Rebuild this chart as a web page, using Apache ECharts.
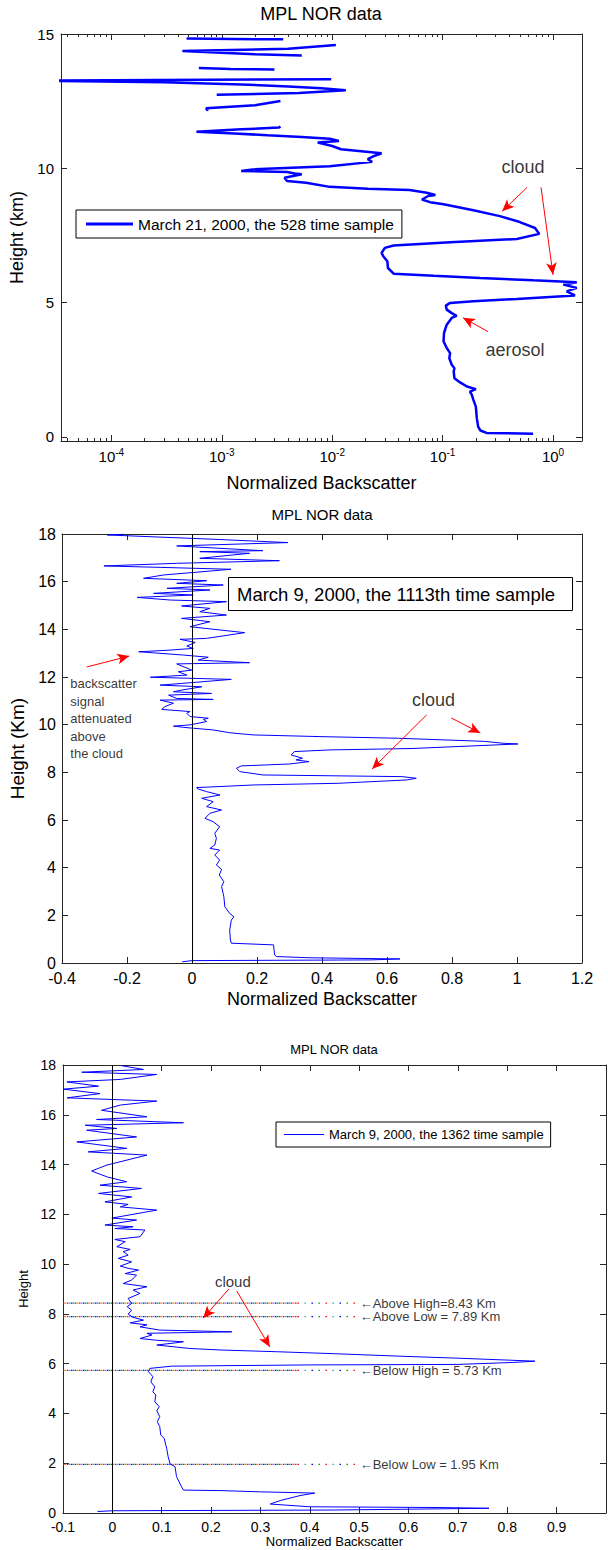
<!DOCTYPE html>
<html><head><meta charset="utf-8">
<script src="https://cdn.jsdelivr.net/npm/echarts@6/dist/echarts.min.js"></script>
<style>html,body{margin:0;padding:0;background:#fff}#c{width:608px;height:1550px}</style>
</head><body><div id="c"></div>
<script>
// ---------------- DATA ----------------
// Panel 1 : March 21, 2000 (log x axis); null = gap (no positive signal)
const p1Title = 'MPL NOR data';
const p1Legend = 'March 21, 2000, the 528 time sample';
const p1Heights = [0.12,0.15,0.24,0.38,0.70,1.13,1.38,1.57,1.69,1.78,1.88,2.03,2.19,2.44,2.56,2.69,2.93,3.12,3.31,3.56,3.87,4.18,4.43,4.51,4.61,4.74,4.89,4.99,5.05,5.14,5.27,5.42,5.55,5.67,5.76,5.83,5.92,6.00,6.08,6.29,6.54,6.73,6.85,7.04,7.13,7.25,7.37,7.56,7.78,8.00,8.22,8.44,8.66,8.74,8.84,8.97,9.01,9.09,9.19,9.24,9.31,9.46,9.53,9.65,9.78,9.81,9.86,9.90,9.96,10.08,10.24,10.34,10.46,10.56,10.71,10.83,10.96,11.02,11.10,11.17,11.23,11.30,11.36,11.45,11.52,11.56,null,12.14,12.24,12.35,12.51,null,12.74,12.80,12.91,12.98,13.05,13.12,13.20,13.26,13.32,null,13.73,13.70,13.68,null,14.20,14.25,14.37,14.45,14.59,null,14.83,14.80];
const p1Values = [0.66,0.25,0.22,0.21,0.204,0.20,0.19,0.184,0.177,0.20,0.166,0.144,0.128,0.126,0.128,0.121,0.115,0.117,0.109,0.102,0.103,0.109,0.121,0.134,0.121,0.109,0.107,0.117,0.19,0.47,1.58,1.33,1.64,1.24,1.64,0.66,0.218,0.083,0.036,0.032,0.0316,0.029,0.028,0.030,0.036,0.117,0.47,0.75,0.687,0.50,0.33,0.19,0.102,0.077,0.065,0.074,0.086,0.072,0.05,0.021,0.0095,0.0058,0.0039,0.0037,0.0053,0.0046,0.0039,0.0015,0.0019,0.0095,0.023,0.021,0.024,0.028,0.012,0.010,0.0074,0.0115,0.0095,0.0053,0.0026,0.0013,0.00059,0.0015,0.0033,0.0034,null,0.00075,0.00072,0.0020,0.0034,null,0.0009,0.005,0.0133,0.008,0.004,0.0015,0.0003,0.00002,0.0098,null,0.00062,0.0012,0.003,null,0.0053,0.002,0.00044,0.004,0.0108,null,0.00048,0.0036];
const p1MajorTicks = [1e-4,1e-3,1e-2,1e-1,1];
const p1Mantissas = [2,3,4,5,6,7,8,9];
const p1Decades = [1e-5,1e-4,1e-3,1e-2,1e-1,1];
const p1HeightTicks = [0,5,10,15];
const p1NoteText = ['cloud','aerosol'];
const p1NoteAt = [[0.535,10.04],[0.453,3.25]];
const p1Arrows = [[[0.582,9.29],[0.346,8.40]],[[0.779,9.29],[1.0,6.04]],[[0.258,3.92],[0.153,4.44]]];

// Panel 2 : March 9, 2000, 1113th sample
const p2Title = 'MPL NOR data';
const p2Box = 'March 9, 2000, the 1113th time sample';
const p2Heights = [0.05,0.10,0.13,0.17,0.22,0.27,0.34,0.76,0.83,0.97,1.38,1.80,1.94,2.08,2.36,2.78,2.92,3.20,3.41,3.69,3.93,4.11,4.32,4.53,4.74,4.81,4.95,5.23,5.44,5.72,5.93,6.07,6.28,6.42,6.56,6.77,6.91,7.05,7.19,7.30,7.36,7.40,7.47,7.54,7.68,7.75,7.82,7.89,8.03,8.17,8.27,8.35,8.45,8.52,8.59,8.73,8.87,8.94,9.00,9.19,9.22,9.30,9.43,9.50,9.57,9.66,9.78,9.85,9.89,9.94,9.99,10.13,10.22,10.27,10.34,10.48,10.55,10.64,10.76,10.90,11.03,11.06,11.10,11.24,11.31,11.38,11.45,11.59,11.66,11.73,11.90,11.99,12.08,12.22,12.29,12.55,12.60,12.71,12.83,12.92,13.06,13.12,13.20,13.30,13.45,13.58,13.62,13.86,14.11,14.32,14.46,14.60,14.74,14.88,14.98,15.16,15.23,15.34,15.44,15.51,15.65,15.72,15.86,15.93,16.04,16.14,16.28,16.52,16.60,16.66,16.77,16.88,16.98,17.19,17.26,17.30,17.50,17.64,17.78,17.96,17.99];
const p2Values = [-0.03,0.0,0.55,0.64,0.36,0.26,0.254,0.251,0.121,0.118,0.116,0.121,0.129,0.116,0.101,0.098,0.096,0.091,0.098,0.084,0.091,0.075,0.085,0.070,0.085,0.055,0.070,0.075,0.070,0.085,0.065,0.040,0.055,0.091,0.045,0.065,0.030,0.086,0.045,0.019,0.014,0.08,0.19,0.45,0.66,0.69,0.646,0.218,0.147,0.137,0.152,0.30,0.36,0.32,0.34,0.305,0.315,0.422,0.677,1.003,0.957,0.90,0.636,0.391,0.188,0.116,0.065,0.004,-0.027,-0.057,-0.006,0.045,0.035,0.05,-0.006,-0.016,-0.006,-0.093,-0.083,-0.057,-0.098,0.065,-0.047,-0.072,0.06,-0.057,-0.032,0.030,-0.098,-0.032,0.121,-0.128,-0.016,-0.042,-0.001,-0.047,0.177,0.019,0.05,-0.026,-0.164,-0.077,0.004,-0.016,0.01,-0.037,0.045,0.162,-0.006,0.055,-0.032,0.106,0.024,0.055,-0.032,0.106,-0.067,-0.169,0.004,-0.118,0.055,-0.077,0.096,-0.047,0.045,-0.149,-0.088,0.12,-0.098,-0.271,-0.047,0.269,0.024,0.177,0.024,0.218,-0.047,0.295,0.065,-0.261,-0.21];
const p2NoteText = ['backscatter\nsignal\nattenuated\nabove\nthe cloud','cloud'];
const p2NoteAt = [[-0.376,10.24],[0.743,11.04]];
const p2Arrows = [[[-0.324,12.42],[-0.193,12.88]],[[0.722,10.41],[0.554,8.14]],[[0.798,10.28],[0.887,9.65]]];

// Panel 3 : March 9, 2000, 1362 sample
const p3Title = 'MPL NOR data';
const p3Legend = 'March 9, 2000, the 1362 time sample';
const p3Heights = [0.06,0.09,0.12,0.19,0.22,0.25,0.36,0.50,0.70,0.80,0.85,0.90,0.92,1.06,1.46,1.86,1.97,2.26,2.60,3.00,3.13,3.47,3.67,3.87,4.11,4.27,4.47,4.74,4.87,5.07,5.27,5.48,5.68,5.81,5.90,5.95,5.97,6.05,6.10,6.14,6.22,6.30,6.40,6.48,6.55,6.61,6.75,6.83,6.88,6.94,7.01,7.15,7.22,7.28,7.35,7.48,7.56,7.64,7.75,7.86,7.99,8.15,8.29,8.42,8.62,8.82,8.96,9.09,9.22,9.36,9.56,9.62,9.76,9.83,9.92,10.09,10.23,10.36,10.50,10.59,10.70,10.90,10.99,11.10,11.37,11.43,11.50,11.57,11.77,11.85,12.17,12.30,12.40,12.50,12.70,12.84,13.04,13.17,13.31,13.50,13.74,13.98,14.38,14.51,14.65,14.91,15.11,15.38,15.45,15.58,15.68,15.81,15.92,16.18,16.39,16.55,16.68,16.85,17.03,17.15,17.32,17.42,17.62,17.71,17.82,17.97];
const p3Values = [-0.03,0.0,0.45,0.763,0.66,0.40,0.32,0.34,0.38,0.41,0.30,0.22,0.144,0.14,0.13,0.127,0.117,0.113,0.11,0.105,0.098,0.096,0.091,0.096,0.09,0.095,0.086,0.088,0.082,0.086,0.078,0.082,0.073,0.076,0.12,0.40,0.70,0.812,0.856,0.805,0.70,0.583,0.45,0.333,0.218,0.157,0.09,0.125,0.144,0.09,0.056,0.08,0.07,0.242,0.096,0.056,0.07,0.036,0.063,0.042,0.032,0.039,0.03,0.039,0.032,0.056,0.042,0.07,0.022,0.039,0.049,0.026,0.053,0.032,0.016,0.039,0.012,0.032,0.022,0.036,0.009,0.026,0.005,0.056,0.066,0.005,0.042,-0.015,0.049,-0.001,0.09,0.016,0.032,-0.015,0.039,-0.028,0.059,-0.025,0.029,-0.01,-0.042,-0.011,0.07,-0.049,0.029,-0.072,0.049,-0.052,0.009,-0.055,0.144,-0.032,0.07,-0.022,0.016,0.09,-0.092,-0.025,-0.099,-0.028,-0.092,0.016,0.09,-0.062,0.063,0.019];
const p3Levels = [8.43,7.89,5.73,1.95];
const p3LevelLabels = ['\u2190Above High=8.43 Km','\u2190Above Low = 7.89 Km','\u2190Below High = 5.73 Km','\u2190Below Low = 1.95 Km'];
const p3LevelSpan = [-0.1,0.375,0.5];   // dense part, then sparse part of the dotted level lines
const p3LevelLabelX = 0.5;
const p3NoteText = ['cloud'];
const p3NoteAt = [[0.244,9.32]];
const p3Arrows = [[[0.236,9.0],[0.184,7.83]],[[0.252,8.92],[0.319,6.67]]];

// ---------------- STYLE / BUILD ----------------
const FONT = "'Liberation Sans', Arial, Helvetica, sans-serif";
const AX = '#262626';
const BLUE = '#0000ff';
const RED = '#ff0000';

const p1Minor = [];
p1Decades.forEach(d => p1Mantissas.forEach(m => { const v = +(m * d).toPrecision(3); if (v > 3.5e-5 && v < 1.83) p1Minor.push(v); }));

function pairs(vals, hs) { return hs.map((h, i) => (h == null || vals[i] == null) ? ['-', '-'] : [vals[i], h]); }
function arrowLines(list) { return list.map(a => [{coord: a[0]}, {coord: a[1]}]); }
function arrowMark(list) {
  return {silent: true, animation: false, symbol: ['none', 'arrow'], symbolSize: [8, 12],
    label: {show: false}, lineStyle: {color: RED, width: 1, type: 'solid', opacity: 1},
    emphasis: {disabled: true}, data: arrowLines(list)};
}
const zeroMark = {silent: true, animation: false, symbol: ['none', 'none'], label: {show: false},
  lineStyle: {color: '#000', width: 1, type: 'solid'}, emphasis: {disabled: true}, data: [{xAxis: 0}]};

function tickAxis(extra) {
  return Object.assign({
    axisLine: {show: true, onZero: false, lineStyle: {color: AX, width: 1}},
    splitLine: {show: false},
    axisTick: {show: true, inside: true, length: 6, lineStyle: {color: AX}},
    axisLabel: {show: false}
  }, extra);
}
const lbl = (size, extra) => Object.assign({show: true, color: '#000', fontFamily: FONT, fontSize: size}, extra || {});
const nameStyle = size => ({color: '#000', fontFamily: FONT, fontSize: size});

const xAxis = [
  // panel 1 (log)
  tickAxis({gridIndex: 0, type: 'log', logBase: 10, min: 3.5e-5, max: 1.83, position: 'bottom',
    axisTick: {show: true, inside: true, length: 6, customValues: p1MajorTicks, lineStyle: {color: AX}},
    axisLabel: lbl(15, {customValues: p1MajorTicks, margin: 6,
      formatter: v => '{b|10}{e|' + Math.round(Math.log10(v)) + '}',
      rich: {b: {fontSize: 15, color: '#000', fontFamily: FONT}, e: {fontSize: 10, color: '#000', fontFamily: FONT, padding: [0, 0, 9, 0]}}}),
    name: 'Normalized Backscatter', nameLocation: 'middle', nameGap: 33, nameTextStyle: nameStyle(18)}),
  tickAxis({gridIndex: 0, type: 'log', logBase: 10, min: 3.5e-5, max: 1.83, position: 'bottom',
    axisLine: {show: false, onZero: false},
    axisTick: {show: true, inside: true, length: 3, customValues: p1Minor, lineStyle: {color: AX}}}),
  tickAxis({gridIndex: 0, type: 'log', logBase: 10, min: 3.5e-5, max: 1.83, position: 'top',
    axisTick: {show: true, inside: true, length: 6, customValues: p1MajorTicks, lineStyle: {color: AX}}}),
  tickAxis({gridIndex: 0, type: 'log', logBase: 10, min: 3.5e-5, max: 1.83, position: 'top',
    axisLine: {show: false, onZero: false},
    axisTick: {show: true, inside: true, length: 3, customValues: p1Minor, lineStyle: {color: AX}}}),
  // panel 2
  tickAxis({gridIndex: 1, type: 'value', min: -0.4, max: 1.2, interval: 0.2, position: 'bottom',
    axisLabel: lbl(16, {margin: 7}),
    name: 'Normalized Backscatter', nameLocation: 'middle', nameGap: 27, nameTextStyle: nameStyle(18)}),
  tickAxis({gridIndex: 1, type: 'value', min: -0.4, max: 1.2, interval: 0.2, position: 'top'}),
  // panel 3
  tickAxis({gridIndex: 2, type: 'value', min: -0.1, max: 1.0, interval: 0.1, position: 'bottom',
    axisLabel: lbl(14, {margin: 7, showMaxLabel: false}),
    name: 'Normalized Backscatter', nameLocation: 'middle', nameGap: 22, nameTextStyle: nameStyle(13)}),
  tickAxis({gridIndex: 2, type: 'value', min: -0.1, max: 1.0, interval: 0.1, position: 'top'})
];
const yAxis = [
  tickAxis({gridIndex: 0, type: 'value', min: -0.15, max: 15, position: 'left',
    axisTick: {show: true, inside: true, length: 6, customValues: p1HeightTicks, lineStyle: {color: AX}},
    axisLabel: lbl(15, {customValues: p1HeightTicks, margin: 7}),
    name: 'Height (km)', nameLocation: 'middle', nameGap: 30, nameTextStyle: nameStyle(18)}),
  tickAxis({gridIndex: 0, type: 'value', min: -0.15, max: 15, position: 'right',
    axisTick: {show: true, inside: true, length: 6, customValues: p1HeightTicks, lineStyle: {color: AX}}}),
  tickAxis({gridIndex: 1, type: 'value', min: 0, max: 18, interval: 2, position: 'left',
    axisLabel: lbl(16, {margin: 6}),
    name: 'Height (Km)', nameLocation: 'middle', nameGap: 29, nameTextStyle: nameStyle(19)}),
  tickAxis({gridIndex: 1, type: 'value', min: 0, max: 18, interval: 2, position: 'right'}),
  tickAxis({gridIndex: 2, type: 'value', min: 0, max: 18, interval: 2, position: 'left',
    axisLabel: lbl(14, {margin: 7}),
    name: 'Height', nameLocation: 'middle', nameGap: 26, nameTextStyle: nameStyle(13)}),
  tickAxis({gridIndex: 2, type: 'value', min: 0, max: 18, interval: 2, position: 'right'})
];

function noteSeries(xi, yi, texts, at, styles, arrows) {
  return {type: 'scatter', xAxisIndex: xi, yAxisIndex: yi, silent: true, symbolSize: 1,
    itemStyle: {color: 'transparent'}, z: 5,
    data: texts.map((t, i) => ({name: t, value: at[i], label: Object.assign({show: true, formatter: '{b}', color: '#000', fontFamily: FONT}, styles[i])})),
    markLine: arrows ? arrowMark(arrows) : undefined};
}

const levelColors = ['#ff0000', '#00a000', '#0000ff', '#00c0c0', '#d000d0', '#b0b000'];
const levelSeries = [];
levelColors.forEach((c, k) => {
  const dense = [], sparse = [];
  p3Levels.forEach(L => {
    dense.push([p3LevelSpan[0], L], [p3LevelSpan[1], L], ['-', '-']);
    sparse.push([p3LevelSpan[1], L], [p3LevelSpan[2], L], ['-', '-']);
  });
  levelSeries.push({type: 'line', xAxisIndex: 6, yAxisIndex: 4, silent: true, symbol: 'none', z: 1,
    data: dense, lineStyle: {color: c, width: 1.3, type: [1.5, 10.5], dashOffset: k * 2}});
  if (k < 4) levelSeries.push({type: 'line', xAxisIndex: 6, yAxisIndex: 4, silent: true, symbol: 'none', z: 1,
    data: sparse, lineStyle: {color: c, width: 1.3, type: [1.5, 26.5], dashOffset: k * 7}});
});

const option = {
  animation: false,
  backgroundColor: '#fff',
  textStyle: {fontFamily: FONT},
  title: [
    {text: p1Title, left: 321, top: 5, textAlign: 'center', padding: 0, textStyle: {fontFamily: FONT, fontSize: 18, fontWeight: 'normal', color: '#000'}},
    {text: p2Title, left: 322, top: 507, textAlign: 'center', padding: 0, textStyle: {fontFamily: FONT, fontSize: 15, fontWeight: 'normal', color: '#000'}},
    {text: p3Title, left: 334, top: 1043, textAlign: 'center', padding: 0, textStyle: {fontFamily: FONT, fontSize: 13, fontWeight: 'normal', color: '#000'}},
    {text: p2Box, left: 228, top: 577, padding: [8, 18, 7, 9], borderColor: '#000', borderWidth: 1, backgroundColor: '#fff',
      textStyle: {fontFamily: FONT, fontSize: 18.5, fontWeight: 'normal', color: '#000'}}
  ],
  legend: [
    {data: [{name: p1Legend, icon: 'rect'}], left: 76, top: 210, selectedMode: false, itemWidth: 47, itemHeight: 3,
      padding: [6, 8, 6, 10], borderColor: '#000', borderWidth: 1, backgroundColor: '#fff',
      textStyle: {fontFamily: FONT, fontSize: 15.5, color: '#000'}},
    {data: [{name: p3Legend, icon: 'rect'}], left: 276, top: 1122, selectedMode: false, itemWidth: 40, itemHeight: 1,
      padding: [6, 7, 6, 8], borderColor: '#000', borderWidth: 1, backgroundColor: '#fff',
      textStyle: {fontFamily: FONT, fontSize: 13, color: '#000'}}
  ],
  grid: [
    {left: 61, top: 34, width: 521, height: 407, outerBoundsMode: 'none'},
    {left: 62, top: 534, width: 520, height: 429, outerBoundsMode: 'none'},
    {left: 63, top: 1065, width: 543, height: 448, outerBoundsMode: 'none'}
  ],
  xAxis, yAxis,
  series: [
    ...levelSeries,
    {type: 'line', name: p1Legend, xAxisIndex: 0, yAxisIndex: 0, data: pairs(p1Values, p1Heights),
      symbol: 'none', connectNulls: false, clip: true, silent: true, z: 3,
      lineStyle: {color: BLUE, width: 2.5}, itemStyle: {color: BLUE}},
    noteSeries(0, 0, p1NoteText, p1NoteAt, [{position: 'inside', fontSize: 18}, {position: 'inside', fontSize: 18}], p1Arrows),
    {type: 'line', name: 'p2', xAxisIndex: 4, yAxisIndex: 2, data: pairs(p2Values, p2Heights),
      symbol: 'none', clip: true, silent: true, z: 3, lineStyle: {color: BLUE, width: 1}, itemStyle: {color: BLUE},
      markLine: zeroMark},
    noteSeries(4, 2, p2NoteText, p2NoteAt, [{position: 'right', distance: 0, fontSize: 13, lineHeight: 17.5}, {position: 'inside', fontSize: 18}], p2Arrows),
    {type: 'line', name: p3Legend, xAxisIndex: 6, yAxisIndex: 4, data: pairs(p3Values, p3Heights),
      symbol: 'none', clip: true, silent: true, z: 3, lineStyle: {color: BLUE, width: 1}, itemStyle: {color: BLUE},
      markLine: zeroMark},
    noteSeries(6, 4, p3NoteText, p3NoteAt, [{position: 'inside', fontSize: 15}], p3Arrows),
    noteSeries(6, 4, p3LevelLabels, p3Levels.map(L => [p3LevelLabelX, L]), p3LevelLabels.map(() => ({position: 'right', distance: 0, fontSize: 13})), null)
  ]
};
const chart = echarts.init(document.getElementById('c'), null, {renderer: 'svg', width: 608, height: 1550});
chart.setOption(option);
</script></body></html>
